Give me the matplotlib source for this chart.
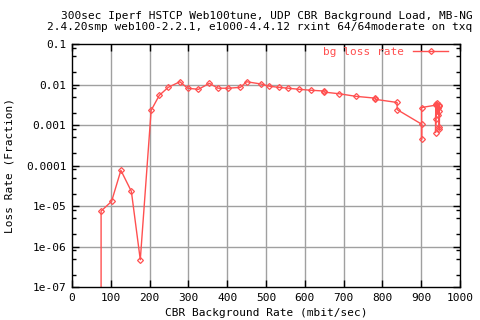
import matplotlib
matplotlib.use("Agg")
import matplotlib.pyplot as plt
from matplotlib.ticker import LogLocator, NullFormatter, FixedLocator


# -----------------------------
# Data
# -----------------------------
cbr_rate = [75, 75, 102, 126, 153, 176, 204, 225, 248, 278, 298, 326, 354,
            376, 403, 434, 450, 487, 508, 533, 557, 586, 617, 650, 650,
            689, 732, 782, 782, 838, 838, 901, 901, 901, 938, 937, 937,
            939, 941, 944, 944, 946, 946, 947, 947, 945]
loss_rate = [1e-9, 7.5e-6, 1.3e-5, 7.6e-5, 2.3e-5, 4.7e-7, 2.3e-3, 5.4e-3,
             8.5e-3, 1.17e-2, 8.1e-3, 7.6e-3, 1.07e-2, 8.1e-3, 8.1e-3,
             8.5e-3, 1.17e-2, 1.03e-2, 9.1e-3, 8.5e-3, 8.1e-3, 7.6e-3,
             7.2e-3, 6.9e-3, 6.5e-3, 5.9e-3, 5.1e-3, 4.6e-3, 4.3e-3,
             3.6e-3, 2.4e-3, 1.05e-3, 4.4e-4, 2.7e-3, 3.1e-3, 1.4e-3,
             6.5e-4, 3.3e-3, 3.4e-3, 1.8e-3, 2.6e-3, 2.9e-3, 9.1e-4,
             7.8e-4, 2.2e-3, 3.2e-3]

x_ticks = [0, 100, 200, 300, 400, 500, 600, 700, 800, 900, 1000]
y_ticks = [1e-7, 1e-6, 1e-5, 1e-4, 1e-3, 1e-2, 1e-1]
y_tick_labels = ["1e-07", "1e-06", "1e-05", "0.0001", "0.001", "0.01", "0.1"]

title_lines = ["300sec Iperf HSTCP Web100tune, UDP CBR Background Load, MB-NG",
               "2.4.20smp web100-2.2.1, e1000-4.4.12 rxint 64/64moderate on txq"]

RED = "#ff5050"
GRID = "#a0a0a0"
FONT = "DejaVu Sans Mono"
FS = 8.0

plt.rcParams["font.family"] = FONT

fig = plt.figure(figsize=(4.8, 3.2), dpi=100)
ax = fig.add_axes([0.15, 0.1031, 0.8083, 0.7594])

ax.plot(cbr_rate, loss_rate, color=RED, linewidth=1, marker="D",
        markersize=3.0, markerfacecolor="none", markeredgewidth=0.9,
        label="bg loss rate")

ax.set_yscale("log")
ax.set_xlim(0, 1000)
ax.set_ylim(1e-7, 0.1)

ax.xaxis.set_major_locator(FixedLocator(x_ticks))
ax.set_xticklabels([str(v) for v in x_ticks], fontsize=FS)
ax.yaxis.set_major_locator(FixedLocator(y_ticks))
ax.set_yticklabels(y_tick_labels, fontsize=FS)
ax.yaxis.set_minor_locator(LogLocator(base=10, subs=(2, 5, 8)))
ax.yaxis.set_minor_formatter(NullFormatter())

ax.tick_params(which="both", direction="in", top=True, right=True, width=1)
ax.tick_params(which="major", length=5, pad=4)
ax.tick_params(which="minor", length=3)

# grid only on inner major lines, like gnuplot
for xv in x_ticks[1:-1]:
    ax.axvline(xv, color=GRID, linewidth=1, zorder=0)
for yv in y_ticks[1:-1]:
    ax.axhline(yv, color=GRID, linewidth=1, zorder=0)

for spine in ax.spines.values():
    spine.set_linewidth(1)

ax.set_xlabel("CBR Background Rate (mbit/sec)", fontsize=FS, labelpad=4)
ax.set_ylabel("Loss Rate (Fraction)", fontsize=FS, labelpad=8)

fig.text(0.556, 0.95, title_lines[0], fontsize=FS, ha="center", va="center")
fig.text(0.54, 0.915, title_lines[1], fontsize=FS, ha="center", va="center")

leg = ax.legend(loc="upper right", frameon=False, fontsize=FS,
                markerfirst=False, handlelength=3.2,
                bbox_to_anchor=(0.99, 1.02), borderaxespad=0.3)
for t in leg.get_texts():
    t.set_color(RED)

fig.savefig("out.png", dpi=100)
print("Saved: out.png")
